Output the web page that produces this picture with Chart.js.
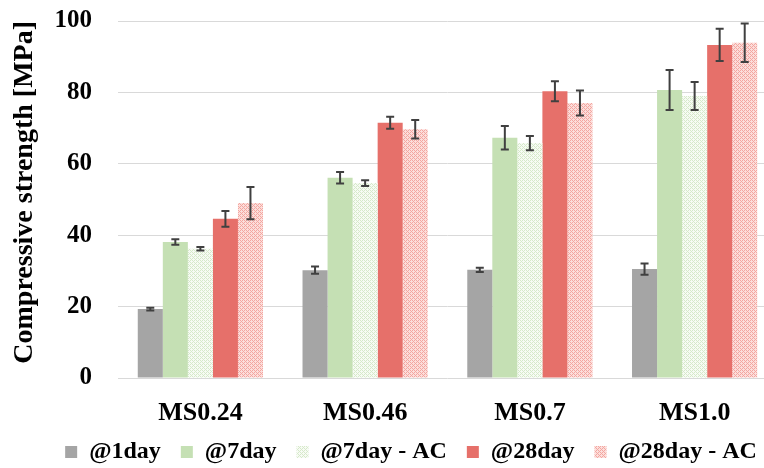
<!DOCTYPE html>
<html>
<head>
<meta charset="utf-8">
<script src="https://cdn.jsdelivr.net/npm/chart.js@4/dist/chart.umd.min.js"></script>
<style>
    html, body { margin: 0; padding: 0; background: #fff; overflow: hidden; }
    #wrap { width: 822px; height: 474px; }
</style>
</head>
<body>
<div id="wrap"><canvas id="StrengthChart"></canvas></div>
<script>
// categories and values
var mixes = ["MS0.24", "MS0.46", "MS0.7", "MS1.0"];
var series_names = ["@1day", "@7day", "@7day - AC", "@28day", "@28day - AC"];

var day1     = [19.3, 30.2, 30.3, 30.5];
var day7     = [38.1, 56.1, 67.3, 80.7];
var day7_ac  = [36.2, 54.6, 65.8, 79.0];
var day28    = [44.6, 71.5, 80.3, 93.3];
var day28_ac = [49.0, 69.7, 77.0, 93.9];

var err_day1     = [0.4, 1.0, 0.6, 1.6];
var err_day7     = [0.8, 1.6, 3.3, 5.6];
var err_day7_ac  = [0.5, 0.8, 2.0, 3.9];
var err_day28    = [2.2, 1.7, 2.8, 4.5];
var err_day28_ac = [4.5, 2.6, 3.5, 5.4];

var y_ticks = [0, 20, 40, 60, 80, 100];

// small dotted fill like the office "dotted grid" pattern
function makePattern(bg, dot) {
    var c = document.createElement("canvas");
    c.width = 4;
    c.height = 4;
    var cx = c.getContext("2d");
    cx.fillStyle = bg;
    cx.fillRect(0, 0, 4, 4);
    cx.fillStyle = dot;
    cx.fillRect(0, 0, 1, 1);
    cx.fillRect(2, 2, 1, 1);
    cx.fillRect(1, 1, 1, 1);
    cx.fillRect(3, 3, 1, 1);
    cx.fillRect(2, 0, 1, 1);
    cx.fillRect(0, 2, 1, 1);
    return cx.createPattern(c, "repeat");
}

var errorBarPlugin = {
    id: "errorBars",
    afterDatasetsDraw: function (chart) {
        var ctx = chart.ctx;
        var yScale = chart.scales.y;
        ctx.save();
        ctx.strokeStyle = "#404040";
        ctx.lineWidth = 2;
        chart.data.datasets.forEach(function (ds, i) {
            var meta = chart.getDatasetMeta(i);
            meta.data.forEach(function (bar, j) {
                var v = ds.data[j];
                var e = ds.errors[j];
                var top = yScale.getPixelForValue(v + e);
                var bot = yScale.getPixelForValue(v - e);
                ctx.beginPath();
                ctx.moveTo(bar.x, top);
                ctx.lineTo(bar.x, bot);
                ctx.moveTo(bar.x - 4, top);
                ctx.lineTo(bar.x + 4, top);
                ctx.moveTo(bar.x - 4, bot);
                ctx.lineTo(bar.x + 4, bot);
                ctx.stroke();
            });
        });
        ctx.restore();
    }
};

document.addEventListener('DOMContentLoaded', function () {
    var canvas = document.getElementById("StrengthChart");
    var fontFam = "'Liberation Serif', 'Times New Roman', serif";

    var values = [day1, day7, day7_ac, day28, day28_ac];
    var errors = [err_day1, err_day7, err_day7_ac, err_day28, err_day28_ac];
    var fills = [
        "#a5a5a5",
        "#c5e0b4",
        makePattern("#f7fbf4", "#d6e9ca"),
        "#e6706a",
        makePattern("#fcdedb", "#f3a6a0")
    ];

    var datasets = [];
    for (var i = 0; i < values.length; ++i) {
        datasets.push({
            label: series_names[i],
            data: values[i],
            errors: errors[i],
            backgroundColor: fills[i],
            borderWidth: 0,
            barPercentage: 1.0,
            categoryPercentage: 0.76
        });
    }

    new Chart(canvas, {
        type: "bar",
        data: { labels: mixes, datasets: datasets },
        options: {
            animation: false,
            responsive: true,
            maintainAspectRatio: false,
            layout: { padding: { top: 21, left: 0, right: 0, bottom: 0 } },
            scales: {
                x: {
                    grid: { display: false },
                    border: { display: false },
                    ticks: {
                        color: "#000",
                        padding: 12,
                        font: { family: fontFam, size: 26, weight: "bold" }
                    },
                    afterFit: function (scale) {
                        scale.height = 42;
                        scale.paddingLeft = 0;
                        scale.paddingRight = 0;
                    }
                },
                y: {
                    min: 0,
                    max: 100,
                    afterBuildTicks: function (scale) {
                        scale.ticks = y_ticks.map(function (v) { return { value: v }; });
                    },
                    grid: { color: "#d9d9d9", lineWidth: 1, drawTicks: false },
                    border: { display: false },
                    ticks: {
                        color: "#000",
                        padding: 26,
                        font: { family: fontFam, size: 25, weight: "bold" }
                    },
                    title: {
                        display: true,
                        text: "Compressive strength [MPa]",
                        color: "#000",
                        align: "end",
                        padding: { top: 8, bottom: 0 },
                        font: { family: fontFam, size: 28, weight: "bold" }
                    },
                    afterFit: function (scale) {
                        scale.width = 118;
                        scale.paddingTop = 0;
                        scale.paddingBottom = 0;
                    }
                },
                y2: {
                    position: "right",
                    display: true,
                    grid: { display: false },
                    border: { display: false },
                    ticks: { display: false },
                    afterFit: function (scale) { scale.width = 45; }
                }
            },
            plugins: {
                legend: {
                    position: "bottom",
                    labels: {
                        color: "#000",
                        boxWidth: 12,
                        boxHeight: 12,
                        padding: 20,
                        font: { family: fontFam, size: 24, weight: "bold" }
                    }
                },
                tooltip: { enabled: false }
            }
        },
        plugins: [errorBarPlugin]
    });
});
</script>
</body>
</html>
